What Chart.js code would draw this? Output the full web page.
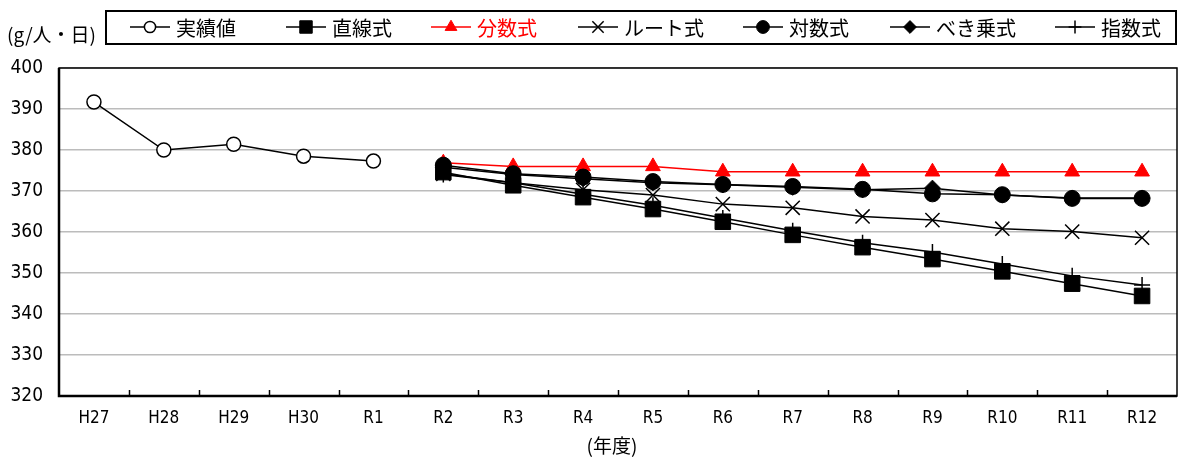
<!DOCTYPE html>
<html>
<head>
<meta charset="utf-8">
<script src="https://cdn.jsdelivr.net/npm/chart.js@4/dist/chart.umd.min.js"></script>
<style>
  html, body { margin: 0; padding: 0; background: #fff; overflow: hidden; }
  #wrap { width: 1178px; height: 459px; position: relative; }
  canvas { display: block; }
</style>
</head>
<body>
<div id="wrap"><canvas id="chart"></canvas></div>
<script>
// Data
const years = ["H27", "H28", "H29", "H30", "R1", "R2", "R3", "R4", "R5", "R6", "R7", "R8", "R9", "R10", "R11", "R12"];
const actual = [391.7, 380.0, 381.4, 378.5, 377.3, null, null, null, null, null, null, null, null, null, null, null];
const linear = [null, null, null, null, null, 374.6, 371.4, 368.5, 365.6, 362.5, 359.3, 356.3, 353.4, 350.4, 347.4, 344.4];
const fraction = [null, null, null, null, null, 376.9, 376.0, 376.0, 376.0, 374.7, 374.7, 374.7, 374.7, 374.7, 374.7, 374.7];
const root = [null, null, null, null, null, 374.2, 372.0, 370.3, 369.0, 366.8, 365.9, 363.8, 362.9, 360.8, 360.1, 358.6];
const logarithm = [null, null, null, null, null, 376.3, 374.2, 373.4, 372.3, 371.6, 371.1, 370.4, 369.3, 369.1, 368.2, 368.2];
const power = [null, null, null, null, null, 375.8, 374.0, 373.0, 372.0, 371.5, 370.9, 370.3, 370.7, 369.0, 368.3, 368.3];
const exponential = [null, null, null, null, null, 374.0, 372.0, 369.2, 366.5, 363.4, 360.3, 357.4, 355.1, 352.2, 349.3, 347.1];
const yTicks = [320, 330, 340, 350, 360, 370, 380, 390, 400];

const NUM_FONT = "'DejaVu Sans Condensed', 'Liberation Sans Narrow', sans-serif";
const JP_FONT = "'Noto Sans CJK JP', sans-serif";

function series(label, data, color, style, radius, fill) {
  return {
    label: label,
    data: data,
    borderColor: color,
    borderWidth: 1.5,
    pointStyle: style,
    pointRadius: radius,
    pointBorderColor: color,
    pointBackgroundColor: fill,
    pointBorderWidth: style === "cross" || style === "crossRot" ? 1.5 : 1,
    spanGaps: false,
    tension: 0,
  };
}

const datasets = [
  series("実績値", actual, "#000", "circle", 7, "#fff"),
  series("直線式", linear, "#000", "rect", 11, "#000"),
  series("分数式", fraction, "#ff0000", "triangle", 8.5, "#ff0000"),
  series("ルート式", root, "#000", "crossRot", 10, "#000"),
  series("対数式", logarithm, "#000", "circle", 8, "#000"),
  series("べき乗式", power, "#000", "rectRot", 8, "#000"),
  series("指数式", exponential, "#000", "cross", 8, "#000"),
];
datasets[0].pointBorderWidth = 1.5;
// later series drawn on top
datasets.forEach((d, i) => (d.order = -i));

// legend marker centres
const legendX = [150, 306, 451, 598, 763, 910, 1075];

const decorations = {
  id: "decorations",
  afterDraw(chart) {
    const ctx = chart.ctx;
    const area = chart.chartArea;
    const xs = chart.scales.x;
    ctx.save();

    // inner tick marks on the x axis
    ctx.strokeStyle = "#000";
    ctx.lineWidth = 1.5;
    for (let i = 1; i < years.length; i++) {
      const x = Math.round((xs.getPixelForTick(i - 1) + xs.getPixelForTick(i)) / 2) + 0.5;
      ctx.beginPath();
      ctx.moveTo(x, area.bottom);
      ctx.lineTo(x, area.bottom - 6);
      ctx.stroke();
    }

    // plot frame
    ctx.lineWidth = 1.5;
    ctx.strokeRect(area.left, area.top, area.right - area.left, area.bottom - area.top);
    ctx.lineWidth = 2.5;
    ctx.beginPath();
    ctx.moveTo(area.left, area.top);
    ctx.lineTo(area.left, area.bottom);
    ctx.lineTo(area.right, area.bottom);
    ctx.stroke();

    // unit labels
    ctx.fillStyle = "#000";
    ctx.font = "19px " + JP_FONT;
    ctx.textBaseline = "middle";
    ctx.textAlign = "left";
    ctx.fillText("(g/人・日)", 7, 35);
    ctx.textAlign = "center";
    ctx.fillText("(年度)", 612, 446);

    // legend box
    ctx.lineWidth = 2;
    ctx.strokeRect(106, 11, 1070, 33);
    ctx.font = "20px " + JP_FONT;
    ctx.textAlign = "left";
    datasets.forEach((d, i) => {
      const cx = legendX[i];
      const cy = 27;
      ctx.strokeStyle = d.borderColor;
      ctx.lineWidth = 1.5;
      ctx.beginPath();
      ctx.moveTo(cx - 20, cy);
      ctx.lineTo(cx + 20, cy);
      ctx.stroke();
      ctx.fillStyle = d.pointBackgroundColor;
      ctx.strokeStyle = d.pointBorderColor;
      ctx.lineWidth = d.pointBorderWidth;
      Chart.helpers.drawPoint(ctx, {
        pointStyle: d.pointStyle,
        radius: d.pointRadius * 0.8,
        rotation: 0,
        borderWidth: d.pointBorderWidth,
      }, cx, cy);
      ctx.fillStyle = d.borderColor;
      ctx.fillText(d.label, cx + 26, cy + 1);
    });
    ctx.restore();
  },
};

new Chart(document.getElementById("chart"), {
  type: "line",
  data: { labels: years, datasets: datasets },
  options: {
    responsive: true,
    maintainAspectRatio: false,
    animation: false,
    layout: { autoPadding: false, padding: { top: 68, right: 1, left: 0, bottom: 0 } },
    plugins: {
      legend: { display: false },
      tooltip: { enabled: false },
    },
    scales: {
      x: {
        offset: true,
        grid: { display: false, drawTicks: false },
        border: { display: false },
        ticks: {
          color: "#000",
          padding: 12,
          font: { family: NUM_FONT, size: 17 },
          maxRotation: 0,
          autoSkip: false,
        },
        afterFit(scale) {
          scale.height = 63;
          scale.paddingLeft = 0;
          scale.paddingRight = 0;
        },
      },
      y: {
        min: 320,
        max: 400,
        afterBuildTicks(scale) {
          scale.ticks = yTicks.map((v) => ({ value: v }));
        },
        grid: { color: "#bcbcbc", lineWidth: 1.5, drawTicks: false },
        border: { display: false },
        ticks: {
          color: "#000",
          padding: 16,
          font: { family: NUM_FONT, size: 19 },
        },
        afterFit(scale) {
          scale.width = 59;
        },
      },
    },
  },
  plugins: [decorations],
});
</script>
</body>
</html>
